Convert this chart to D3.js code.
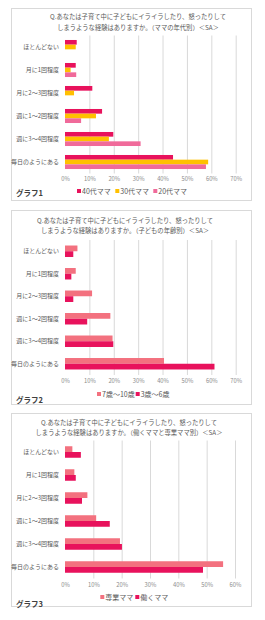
<!DOCTYPE html>
<html><head><meta charset="utf-8">
<script src="https://cdn.jsdelivr.net/npm/d3@7"></script>
<style>
html,body{margin:0;padding:0;background:#fff;}
svg{display:block;font-family:"Noto Sans CJK JP","Noto Sans",sans-serif;}
</style></head><body>
<svg id="c" width="265" height="620"></svg>
<script>
const categories = ["ほとんどない","月に1回程度","月に2～3回程度","週に1～2回程度","週に3～4回程度","毎日のようにある"];

// Graph 1
const series1 = ["40代ママ","30代ママ","20代ママ"];
const mama40 = [4.8, 4.4, 11.2, 15.2, 19.8, 44.3];
const mama30 = [4.4, 2.3, 3.7, 12.7, 18.0, 58.7];
const mama20 = [0, 4.6, 0, 6.6, 31.0, 57.8];
const ticks1 = [0,10,20,30,40,50,60,70];

// Graph 2
const series2 = ["7歳～10歳","3歳～6歳"];
const age7to10 = [5.1, 4.4, 11.1, 18.6, 19.5, 40.6];
const age3to6 = [3.4, 2.6, 3.4, 9.1, 19.8, 61.3];
const ticks2 = [0,10,20,30,40,50,60,70];

// Graph 3
const series3 = ["専業ママ","働くママ"];
const sengyo = [2.6, 3.3, 7.9, 11.0, 19.4, 55.8];
const hataraku = [5.6, 3.8, 6.0, 15.8, 20.1, 48.7];
const ticks3 = [0,10,20,30,40,50,60];

const titleLine1 = "Q.あなたは子育て中に子どもにイライラしたり、怒ったりして";
const titles2 = [
  "しまうような経験はありますか。（ママの年代別）＜SA＞",
  "しまうような経験はありますか。（子どもの年齢別）＜SA＞",
  "しまうような経験はありますか。（働くママと専業ママ別）＜SA＞"
];
const graphLabels = ["グラフ1","グラフ2","グラフ3"];

const DARK="#E8125C", YELLOW="#FFC000", PINK="#F06A9A", LIGHT="#F3717F";
const svg = d3.select("#c");

const charts = [
  {box:[11,8,251,200], titleX:138, titleY:[17,28], top:35.5, bottom:173.5, xMax:70, xRange:[65,235.7],
   ticks:ticks1, series:series1, values:[mama40,mama30,mama20], colors:[DARK,YELLOW,PINK], pad:0.39,
   tickY:183, legY:191, legX:[79,117.3,155.3], gY:193},
  {box:[11,210,251,404], titleX:125, titleY:[221,231], top:240, bottom:375, xMax:70, xRange:[65,235.7],
   ticks:ticks2, series:series2, values:[age7to10,age3to6], colors:[LIGHT,DARK], pad:0.49,
   tickY:385, legY:394, legX:[99,137.7], gY:400},
  {box:[11,413,251,606], titleX:129, titleY:[423,433], top:440.5, bottom:578.5, xMax:60, xRange:[65,235],
   ticks:ticks3, series:series3, values:[sengyo,hataraku], colors:[LIGHT,DARK], pad:0.5,
   tickY:589, legY:597, legX:[102.3,137.3], gY:604}
];

charts.forEach((c,ci)=>{
  const g = svg.append("g");
  g.append("rect").attr("x",c.box[0]+0.5).attr("y",c.box[1]+0.5)
    .attr("width",c.box[2]-c.box[0]).attr("height",c.box[3]-c.box[1])
    .attr("fill","#fff").attr("stroke","#D9D9D9").attr("stroke-width",1);
  [titleLine1, titles2[ci]].forEach((t,i)=>{
    g.append("text").attr("x",c.titleX).attr("y",c.titleY[i]+2.2).attr("text-anchor","middle")
      .attr("font-size","6.3px").attr("fill","#595959").text(t);
  });
  const x = d3.scaleLinear().domain([0,c.xMax]).range(c.xRange);
  const y0 = d3.scaleBand().domain(categories).range([c.top,c.bottom]).paddingInner(c.pad).paddingOuter(c.pad/2);
  const y1 = d3.scaleBand().domain(c.series).range([0,y0.bandwidth()]);
  const grid = g.append("g").attr("transform",`translate(0,${c.bottom})`)
    .call(d3.axisBottom(x).tickValues(c.ticks.filter(v=>v>0)).tickSize(-(c.bottom-c.top)).tickFormat(""));
  grid.select(".domain").remove();
  grid.selectAll("line").attr("stroke","#D9D9D9").attr("stroke-width",1);
  const ax = g.append("g").attr("transform",`translate(0,${c.tickY-6})`)
    .call(d3.axisBottom(x).tickValues(c.ticks).tickSize(0).tickPadding(0).tickFormat(d=>d+"%"));
  ax.select(".domain").remove();
  ax.selectAll("text").attr("font-size","5.8px").attr("fill","#8C8C8C").attr("font-family","'Noto Sans CJK JP',sans-serif");
  g.selectAll("text.cat").data(categories).enter().append("text").attr("class","cat")
    .attr("x",59).attr("y",d=>y0(d)+y0.bandwidth()/2+2.1).attr("text-anchor","end")
    .attr("font-size","6px").attr("fill","#595959").text(d=>d);
  c.series.forEach((s,si)=>{
    g.selectAll(null).data(categories).enter().append("rect")
      .attr("x",x(0)).attr("y",d=>y0(d)+y1(s))
      .attr("width",(d,i)=>x(c.values[si][i])-x(0)).attr("height",y1.bandwidth())
      .attr("fill",c.colors[si]);
  });
  c.series.forEach((s,si)=>{
    g.append("rect").attr("x",c.legX[si]-2).attr("y",c.legY-2).attr("width",4).attr("height",4).attr("fill",c.colors[si]);
    g.append("text").attr("x",c.legX[si]+3).attr("y",c.legY+2.5).attr("font-size","7px").attr("fill","#595959").text(s);
  });
  g.append("text").attr("x",16).attr("y",c.gY+3).attr("font-size","7.5px").attr("font-weight","bold").attr("fill","#404040").text(graphLabels[ci]);
});
</script>
</body></html>
